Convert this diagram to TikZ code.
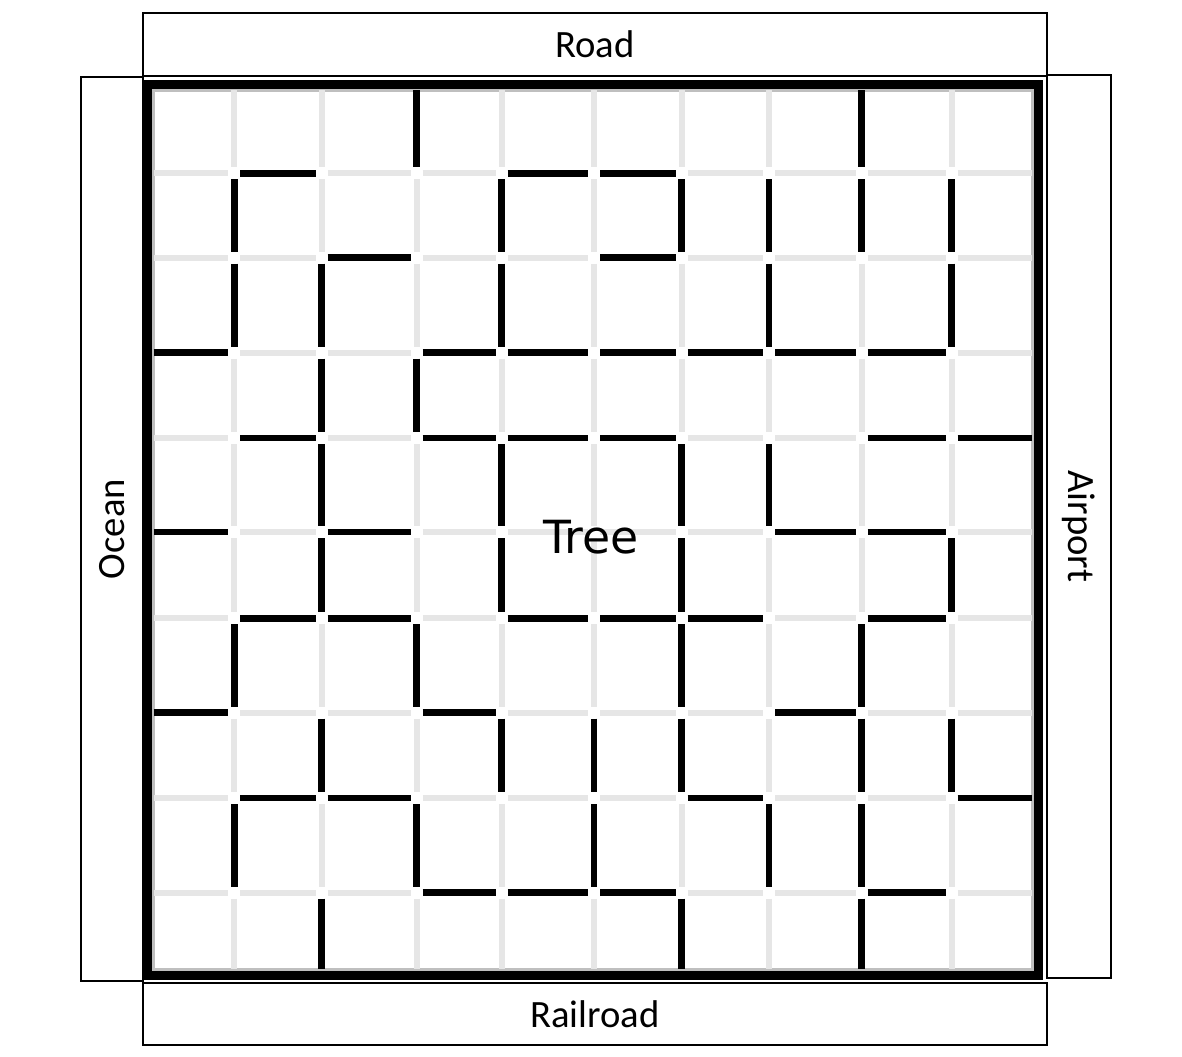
\documentclass[tikz,border=0pt]{standalone}
\usepackage{fontspec}
\setmainfont{Carlito}
\newfontfamily\treefont{DejaVu Sans}
\usepackage{tikz}
\definecolor{gridgray}{RGB}{230,230,230}
\tikzstyle{cell}=[draw=gridgray,line width=0.12cm]
\tikzstyle{wall}=[draw=black,line width=0.13cm]
\tikzstyle{border}=[draw=black,line width=0.18cm]
\tikzstyle{shade}=[draw=gray!50,line width=0.06cm]
\tikzstyle{side}=[rectangle,draw,line width=0.03cm,inner sep=0pt,font=\fontsize{22}{26}\selectfont]
% grid lines of the maze (pixels)
\def\gx{{147.5,234.3,321.7,416.7,501.7,594,681.7,769,861.7,951.7,1038}}
\def\gy{{84,173.3,257.7,352.7,438,532,618.3,712.7,798,892.7,975}}
\def\gap{6}

\begin{document}
\begin{tikzpicture}[x=0.02cm,y=-0.02cm]
\useasboundingbox (0,0) rectangle (1182,1056);
\draw[shade] (153.5,90) rectangle (1032,969.5);
%Light grid
\foreach \h in {1,...,9}{
  \foreach \c in {0,...,9}{
    \pgfmathsetmacro\xa{\gx[\c]+\gap}
    \pgfmathsetmacro\xb{\gx[\c+1]-\gap}
    \pgfmathsetmacro\yy{\gy[\h]}
    \draw[cell] (\xa,\yy) -- (\xb,\yy);
    \pgfmathsetmacro\ya{\gy[\c]+\gap}
    \pgfmathsetmacro\yb{\gy[\c+1]-\gap}
    \pgfmathsetmacro\xx{\gx[\h]}
    \draw[cell] (\xx,\ya) -- (\xx,\yb);
  }
}
%Walls on horizontal lines (line/columns)
\foreach \h/\cols in {1/{1,4,5},2/{2,5},3/{0,3,4,5,6,7,8},4/{1,3,4,5,8,9},5/{0,2,7,8},6/{1,2,4,5,6,8},7/{0,3,7},8/{1,2,6,9},9/{3,4,5,8}}{
  \foreach \c in \cols{
    \pgfmathsetmacro\xa{\gx[\c]+\gap}
    \pgfmathsetmacro\xb{\gx[\c+1]-\gap}
    \pgfmathsetmacro\yy{\gy[\h]}
    \draw[wall] (\xa,\yy) -- (\xb,\yy);
  }
}
%Walls on vertical lines (line/rows)
\foreach \v/\rows in {1/{1,2,6,8},2/{2,3,4,5,7,9},3/{0,3,6,8},4/{1,2,4,5,7},5/{7,8},6/{1,4,5,6,7,9},7/{1,2,4,8},8/{0,1,6,7,8,9},9/{1,2,5,7}}{
  \foreach \r in \rows{
    \pgfmathsetmacro\ya{\gy[\r]+\gap}
    \pgfmathsetmacro\yb{\gy[\r+1]-\gap}
    \pgfmathsetmacro\xx{\gx[\v]}
    \draw[wall] (\xx,\ya) -- (\xx,\yb);
  }
}
\draw[border] (147.5,84) rectangle (1038,975);
\node[font=\treefont\fontsize{26}{30}\selectfont] (tree) at (591,537) {Tree};
%Sides
\node[side,minimum width=18.08cm,minimum height=1.26cm] (road) at (595,44.5) {Road};
\node[side,minimum width=18.08cm,minimum height=1.24cm] (railroad) at (595,1014) {Railroad};
\node[side,rotate=90,minimum width=18.08cm,minimum height=1.24cm] (ocean) at (112,529) {Ocean};
\node[side,rotate=-90,minimum width=18.06cm,minimum height=1.28cm] (airport) at (1079,526.5) {Airport};
\end{tikzpicture}
\end{document}
